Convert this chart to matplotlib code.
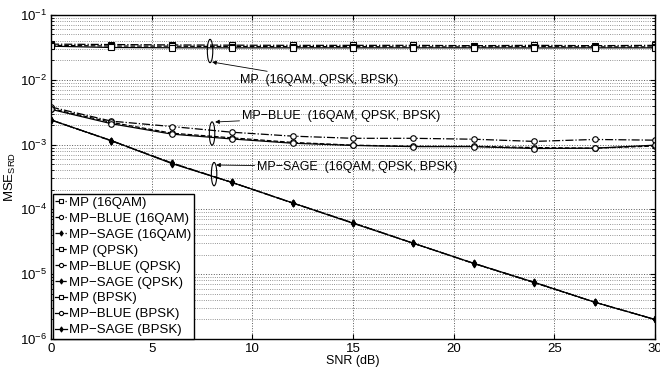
import matplotlib
matplotlib.use('Agg')
import matplotlib.pyplot as plt
from matplotlib.patches import Ellipse
from matplotlib.ticker import LogLocator, NullFormatter, MultipleLocator

plt.rcParams['font.family'] = ['Liberation Sans', 'DejaVu Sans']
plt.rcParams['mathtext.fontset'] = 'custom'
plt.rcParams['mathtext.rm'] = 'Liberation Sans'
plt.rcParams['mathtext.it'] = 'Liberation Sans'

snr = [0, 3, 6, 9, 12, 15, 18, 21, 24, 27, 30]

mp_16qam = [0.0355, 0.0350, 0.0345, 0.0342, 0.0340, 0.0340, 0.0340, 0.0336, 0.0340, 0.0336, 0.0340]
mp_qpsk = [0.0340, 0.0332, 0.0330, 0.0326, 0.0325, 0.0325, 0.0322, 0.0322, 0.0325, 0.0322, 0.0322]
mp_bpsk = [0.0330, 0.0315, 0.0312, 0.0311, 0.0311, 0.0311, 0.0311, 0.0311, 0.0310, 0.0311, 0.0311]

blue_16qam = [0.0038, 0.0023, 0.0019, 0.00155, 0.00135, 0.00125, 0.00125, 0.00121, 0.00112, 0.00120, 0.00117]
blue_qpsk = [0.0036, 0.0022, 0.00150, 0.00127, 0.00108, 0.00098, 0.00094, 0.00094, 0.00090, 0.00088, 0.00095]
blue_bpsk = [0.0035, 0.0021, 0.00145, 0.00122, 0.00105, 0.00097, 0.00093, 0.00093, 0.00087, 0.00088, 0.00098]

sage_16qam = [0.0024, 0.00115, 0.00052, 0.00026, 0.000126, 6.2e-5, 3.0e-5, 1.47e-5, 7.5e-6, 3.7e-6, 2.0e-6]
sage_qpsk = [0.0024, 0.00114, 0.00052, 0.00026, 0.000125, 6.2e-5, 3.0e-5, 1.46e-5, 7.4e-6, 3.7e-6, 2.0e-6]
sage_bpsk = [0.0024, 0.00115, 0.00051, 0.00026, 0.000126, 6.1e-5, 3.0e-5, 1.47e-5, 7.5e-6, 3.7e-6, 2.0e-6]

series = [
    ('MP (16QAM)', mp_16qam, '-.', 's'),
    ('MP\u2212BLUE (16QAM)', blue_16qam, '-.', 'o'),
    ('MP\u2212SAGE (16QAM)', sage_16qam, '-.', 'd'),
    ('MP (QPSK)', mp_qpsk, '--', 's'),
    ('MP\u2212BLUE (QPSK)', blue_qpsk, '--', 'o'),
    ('MP\u2212SAGE (QPSK)', sage_qpsk, '--', 'd'),
    ('MP (BPSK)', mp_bpsk, '-', 's'),
    ('MP\u2212BLUE (BPSK)', blue_bpsk, '-', 'o'),
    ('MP\u2212SAGE (BPSK)', sage_bpsk, '-', 'd'),
]

# group annotations: (label, ellipse centre, arrow tip, text position)
groups = [
    ('MP  (16QAM, QPSK, BPSK)', (7.9, 0.0278), (8.0, 0.0188), (9.4, 0.0099)),
    ('MP\u2212BLUE  (16QAM, QPSK, BPSK)', (8.0, 0.00148), (8.15, 0.00223), (9.5, 0.00276)),
    ('MP\u2212SAGE  (16QAM, QPSK, BPSK)', (8.1, 0.00035), (8.2, 0.000484), (10.25, 0.000451)),
]

fig = plt.figure(figsize=(6.6, 3.7), dpi=100)
ax = fig.add_axes([0.0773, 0.0838, 0.9151, 0.8757])

for label, vals, ls, mk in series:
    filled = mk == 'd'
    ax.plot(snr, vals, ls=ls, marker=mk, color='k', lw=0.9,
            ms=3.5 if filled else 4, mfc='k' if filled else 'white',
            mec='k', mew=0.8, label=label)

ax.set_yscale('log')
ax.set_xlim(0, 30)
ax.set_ylim(1e-6, 1e-1)
ax.xaxis.set_major_locator(MultipleLocator(5))
ax.yaxis.set_major_locator(LogLocator(base=10, numticks=10))
ax.yaxis.set_minor_locator(LogLocator(base=10, subs=range(2, 10), numticks=20))
ax.yaxis.set_minor_formatter(NullFormatter())
ax.grid(True, which='major', ls=':', color='0.35', lw=0.7)
ax.grid(True, which='minor', axis='y', ls=':', color='0.45', lw=0.6)
ax.tick_params(which='both', direction='in', top=True, right=True, labelsize=9.5, pad=3)
ax.tick_params(which='minor', length=2)
for s in ax.spines.values():
    s.set_linewidth(1.0)

ax.set_xlabel('SNR (dB)', fontsize=9, labelpad=0)
ax.set_ylabel('MSE$_{\\mathrm{SRD}}$', fontsize=9.5, labelpad=1)

for text, ecen, tip, tpos in groups:
    cx, cy = ax.transAxes.inverted().transform(ax.transData.transform(ecen))
    ax.add_patch(Ellipse((cx, cy), 0.009, 0.072, transform=ax.transAxes,
                         fill=False, ec='k', lw=0.8, zorder=5))
    ax.annotate(text, xy=tip, xytext=tpos, fontsize=9, ha='left', va='center',
                arrowprops=dict(arrowstyle='-|>', color='k', lw=0.6,
                                mutation_scale=6, shrinkA=0, shrinkB=0))

leg = ax.legend(loc='lower left', bbox_to_anchor=(0.003, 0.0), borderaxespad=0,
                fontsize=9.5, handlelength=0.9, handletextpad=0.15, labelspacing=0.28,
                borderpad=0.2, fancybox=False, framealpha=1, markerscale=0.75)
leg.get_frame().set_edgecolor('k')
leg.get_frame().set_linewidth(1.0)

fig.savefig('out.png', dpi=100)
